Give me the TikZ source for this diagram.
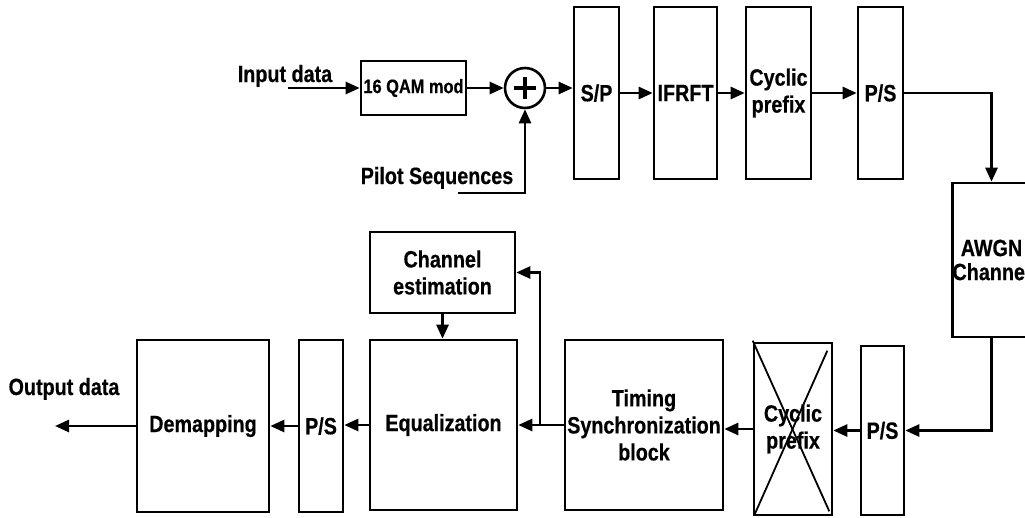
\documentclass[tikz,border=0pt]{standalone}
\usepackage{fontspec}
\newfontfamily\lblfont{Liberation Sans}[FakeStretch=0.84,BoldFeatures={FakeBold=0.5}]
\usetikzlibrary{arrows.meta,calc}
\newcommand\blklabel{\lblfont\bfseries\fontsize{23.5}{27}\selectfont}
\newcommand\qamlabel{\lblfont\bfseries\fontsize{19.5}{23}\selectfont}
\begin{document}
\begin{tikzpicture}[x=1pt,y=-1pt,
  blk/.style={draw,line width=2.6pt,inner sep=0pt,align=center,font=\blklabel},
  tag/.style={inner sep=0pt,font=\blklabel,anchor=base},
  wire/.style={line width=2.6pt},
  arr/.style={line width=2.6pt,-{Triangle[length=14pt,width=12pt]}},
  crossline/.style={line width=1.8pt}]
\useasboundingbox (0,0) rectangle (1025,517);
\clip (0,0) rectangle (1025,517);

% transmitter chain
\node[blk,minimum width=105pt,minimum height=54pt,font=\qamlabel] (qam) at (413.5,88) {16 QAM mod};
\node[draw,circle,line width=2.6pt,minimum size=40pt,inner sep=0pt] (add) at (525,88) {};
\draw[line width=3.8pt] ($(add.center)+(-11,0)$) -- ($(add.center)+(11,0)$)
                        ($(add.center)+(0,-11)$) -- ($(add.center)+(0,11)$);
\node[blk,minimum width=45pt,minimum height=172pt] (sp) at (596.5,93) {S/P};
\node[blk,minimum width=63pt,minimum height=172pt] (ifrft) at (685.5,93) {IFRFT};
\node[blk,minimum width=65pt,minimum height=172pt] (cp1) at (778.5,93) {Cyclic\\prefix};
\node[blk,minimum width=45pt,minimum height=172pt] (ps1) at (880.5,93) {P/S};

% channel
\node[blk,minimum width=77pt,minimum height=154pt] (awgn) at (991.5,260) {AWGN\\[-3pt]Channel};

% receiver chain
\node[blk,minimum width=43pt,minimum height=169pt] (ps2) at (882.5,430.5) {P/S};
\node[blk,minimum width=78pt,minimum height=172pt] (cp2) at (793,429) {Cyclic\\prefix};
\draw[crossline] ($(cp2.north west)+(0,-1)$) -- ($(cp2.south east)+(-4,-5)$);
\draw[crossline] ($(cp2.north east)+(-6,9)$) -- ($(cp2.south west)+(2,-2)$);
\node[blk,minimum width=158pt,minimum height=170pt] (tim) at (644,425) {Timing\\Synchronization\\block};
\node[blk,minimum width=147pt,minimum height=170pt] (eq) at (443.5,425) {Equalization};
\node[blk,minimum width=145pt,minimum height=81pt] (ce) at (442.5,272.5) {Channel\\estimation};
\node[blk,minimum width=44pt,minimum height=172pt] (ps3) at (321,426) {P/S};
\node[blk,minimum width=132pt,minimum height=172pt] (dem) at (203,426) {Demapping};

% text labels
\node[tag] (inlab) at (285,82) {Input data};
\node[tag] (pilotlab) at (437,184) {Pilot Sequences};
\node[tag] (outlab) at (64,395) {Output data};

% free ends of the input / output lines
\coordinate (inend) at (288,88);
\coordinate (pilotend) at (458,193);
\coordinate (outend) at (55,426);
\coordinate (branch) at (540,425);

% connectors, transmitter
\draw[arr] (inend) -- (qam.west);
\draw[arr] (qam.east) -- (add.west);
\draw[arr] (pilotend) -| (add.south);
\draw[arr] (add.east) -- (add.east -| sp.west);
\draw[arr] (sp.east) -- (ifrft.west);
\draw[arr] (ifrft.east) -- (cp1.west);
\draw[arr] (cp1.east) -- (ps1.west);
\draw[arr] (ps1.east) -| (awgn.north);

% connectors, receiver
\draw[arr] (awgn.south) |- (ps2.east);
\draw[arr] (ps2.west) -- (ps2.west -| cp2.east);
\draw[arr] (cp2.west) -- (cp2.west -| tim.east);
\draw[arr] (tim.west) -- (eq.east);
\draw[arr] (branch) |- (ce.east);
\draw[arr] (ce.south) -- (ce.south |- eq.north);
\draw[arr] (eq.west) -- (eq.west -| ps3.east);
\draw[arr] (ps3.west) -- (ps3.west -| dem.east);
\draw[arr] (dem.west) -- (outend);
\end{tikzpicture}
\end{document}
